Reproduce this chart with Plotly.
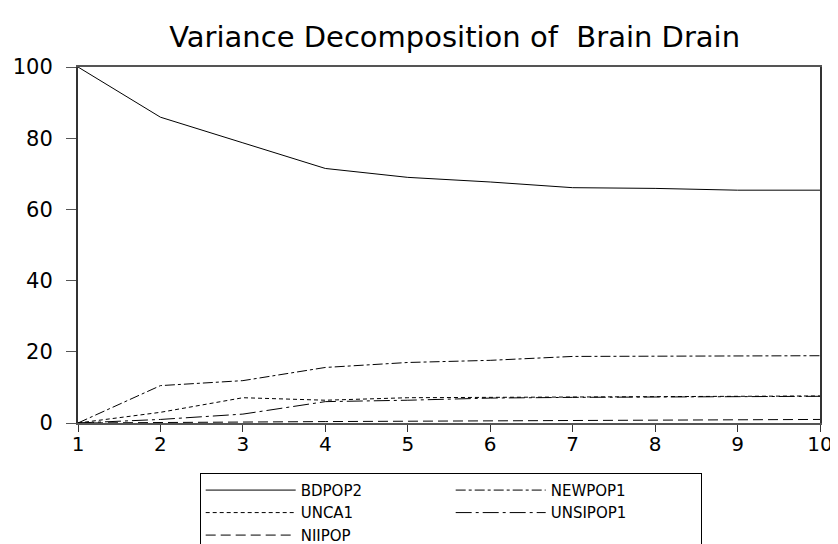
import plotly.graph_objects as go

periods = [1, 2, 3, 4, 5, 6, 7, 8, 9, 10]
bdpop2 = [100.0, 85.9, 78.7, 71.5, 69.0, 67.7, 66.1, 65.9, 65.4, 65.4]
newpop1 = [0.0, 10.5, 11.9, 15.6, 17.0, 17.6, 18.7, 18.8, 18.9, 18.9]
unca1 = [0.0, 3.0, 7.1, 6.4, 7.1, 7.1, 7.3, 7.4, 7.5, 7.6]
unsipop1 = [0.0, 1.0, 2.5, 6.0, 6.4, 7.0, 7.2, 7.3, 7.5, 7.5]
niipop = [0.0, 0.2, 0.3, 0.4, 0.5, 0.6, 0.7, 0.8, 0.9, 1.0]

series = [
    ("BDPOP2", bdpop2, "solid"),
    ("NEWPOP1", newpop1, "10px,3px,3px,3px"),
    ("UNCA1", unca1, "4px,3px"),
    ("UNSIPOP1", unsipop1, "16px,4px,3px,4px"),
    ("NIIPOP", niipop, "10px,5px"),
]

FONT = "DejaVu Sans"

fig = go.Figure()
for name, vals, dash in series:
    fig.add_trace(go.Scatter(
        x=periods, y=vals, name=name, mode="lines",
        line=dict(color="black", width=1, dash=dash),
    ))

fig.update_layout(
    width=838, height=544,
    margin=dict(l=70, r=26, t=59, b=129, autoexpand=False),
    paper_bgcolor="white", plot_bgcolor="white",
    font=dict(family=FONT, color="black", size=20),
    title=dict(text="Variance Decomposition of  Brain Drain",
               x=0.533, xanchor="center", y=0.947, yanchor="middle",
               font=dict(family=FONT, size=29, color="black")),
    showlegend=True,
    legend=dict(
        orientation="h", x=0.164, xanchor="left", y=-0.14, yanchor="top",
        entrywidth=145, entrywidthmode="pixels",
        bordercolor="black", borderwidth=1, bgcolor="white",
        font=dict(family=FONT, size=15, color="black"),
        tracegroupgap=0, itemwidth=90,
    ),
)
fig.update_xaxes(
    range=[1, 10], tickmode="array", tickvals=periods,
    ticks="outside", ticklen=7, tickcolor="#333", tickwidth=1,
    showline=True, linecolor="#555", linewidth=2, mirror=True,
    showgrid=False, zeroline=False, ticklabelstandoff=-5,
    tickfont=dict(family=FONT, size=20),
)
fig.update_yaxes(
    range=[0, 100], tickmode="array", tickvals=[0, 20, 40, 60, 80, 100],
    ticks="outside", ticklen=10, tickcolor="#555", tickwidth=1,
    showline=True, linecolor="#333", linewidth=2, mirror=True,
    showgrid=False, zeroline=False, ticklabelstandoff=9,
    tickfont=dict(family=FONT, size=21),
)

fig.write_html("out.html")
